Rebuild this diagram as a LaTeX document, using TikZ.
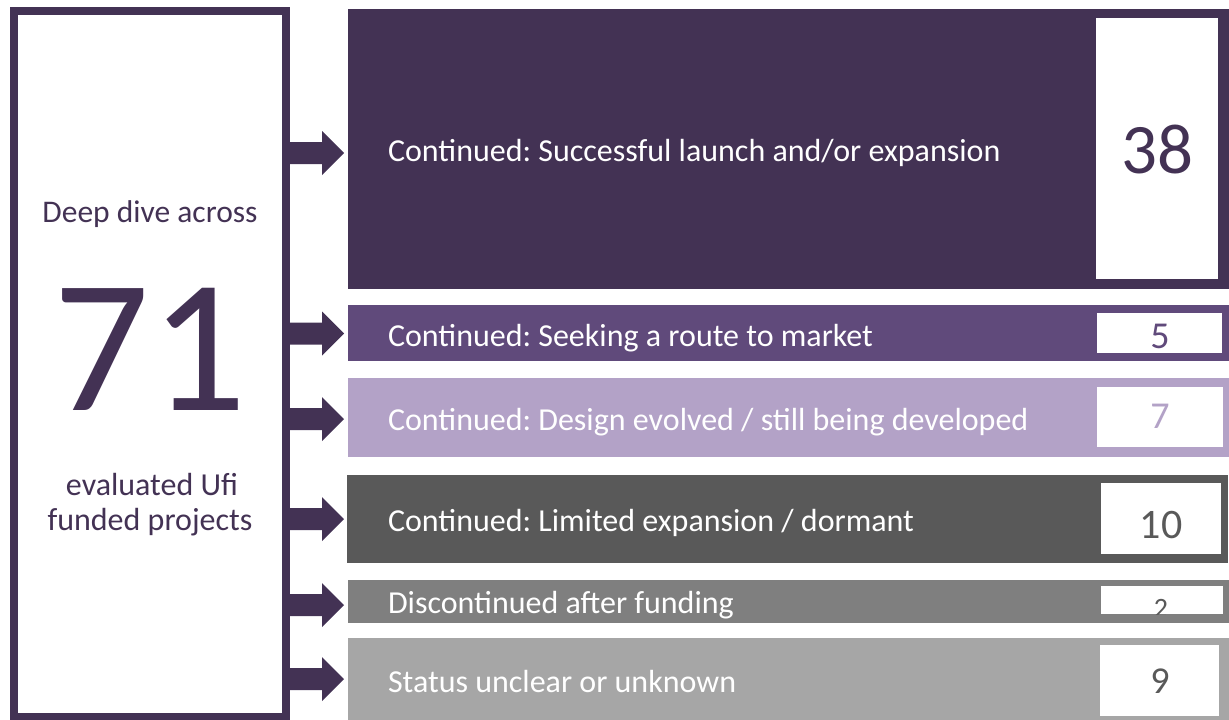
\documentclass[tikz,border=0pt]{standalone}
\usepackage{fontspec}
\setmainfont{Carlito}
\usetikzlibrary{positioning}

\definecolor{ufidark}{HTML}{433254}
\definecolor{ufimid}{HTML}{604A7B}
\definecolor{ufilight}{HTML}{B3A2C7}
\definecolor{greydark}{HTML}{595959}
\definecolor{greymid}{HTML}{7F7F7F}
\definecolor{greylight}{HTML}{A6A6A6}

\newcommand{\fsz}[1]{\fontsize{#1}{#1}\selectfont}
\frenchspacing

\begin{document}
\begin{tikzpicture}[x=1pt,y=-1pt,
    every node/.style={inner sep=0pt,outer sep=0pt},
    outcome/.style={anchor=north west,minimum width=881pt,draw=none},
    countbox/.style={anchor=north west,fill=white,draw=none},
    outtext/.style={anchor=base west,text=white,font=\fsz{32}},
    count/.style={anchor=base,font=\fsz{38}},
    deeptext/.style={anchor=base,text=ufidark,font=\fsz{32}}]
        \useasboundingbox (0,0) rectangle (1229,720);

        % left box
        \node [anchor=north west,draw=ufidark,line width=8pt,minimum width=271.5pt,minimum height=706pt] at (14,11) (deep) {};
        \node [deeptext,font=\fsz{31.5}] at (150,222) (across) {Deep dive across};
        \node [deeptext,font=\fsz{190}] at (150,410) (total) {71};
        \node [deeptext] at (152,495) (evaluated) {evaluated Ufi};
        \node [deeptext] at (150,530) (funded) {funded projects};

        % outcome bars
        \node [outcome,fill=ufidark,minimum height=280pt] at (348,9) (o1) {};
        \node [outcome,fill=ufimid,minimum height=56pt] at (348,305) (o2) {};
        \node [outcome,fill=ufilight,minimum height=79pt] at (348,378) (o3) {};
        \node [outcome,fill=greydark,minimum height=88pt] at (347,475) (o4) {};
        \node [outcome,fill=greymid,minimum height=43pt] at (348,580) (o5) {};
        \node [outcome,fill=greylight,minimum height=82pt] at (348,638) (o6) {};

        \node [outtext] at (388,161.5) (t1) {Continued: Successful launch and/or expansion};
        \node [outtext] at (388,346) (t2) {Continued: Seeking a route to market};
        \node [outtext] at (388,430) (t3) {Continued: Design evolved / still being developed};
        \node [outtext] at (388,531) (t4) {Continued: Limited expansion / dormant};
        \node [outtext] at (388,613) (t5) {Discontinued after funding};
        \node [outtext] at (388,692) (t6) {Status unclear or unknown};

        % count boxes
        \node [countbox,minimum width=122pt,minimum height=261pt] at (1096,18) (c1) {};
        \node [countbox,minimum width=125pt,minimum height=40pt] at (1097,313) (c2) {};
        \node [countbox,minimum width=126pt,minimum height=60pt] at (1097,387) (c3) {};
        \node [countbox,minimum width=120pt,minimum height=71pt] at (1101,483) (c4) {};
        \node [countbox,minimum width=122pt,minimum height=28pt] at (1101,586) (c5) {};
        \node [countbox,minimum width=119pt,minimum height=71pt] at (1100,645) (c6) {};

        \node [count,text=ufidark,font=\fsz{71}] at (1157,173) (n1) {38};
        \node [count,text=ufimid] at (1160,348) (n2) {5};
        \node [count,text=ufilight] at (1160,428) (n3) {7};
        \node [count,text=greydark,font=\fsz{42}] at (1161,538) (n4) {10};
        \begin{scope}
            \clip (c5.north west) rectangle (c5.south east);
            \node [count,text=greydark,font=\fsz{28}] at (1161,617) (n5) {2};
        \end{scope}
        \node [count,text=greydark] at (1160,693) (n6) {9};

        % block arrows
        \foreach \o/\dy in {o1/4,o2/0.5,o3/1.5,o4/0,o5/3.5,o6/0}
            \fill [ufidark] (deep.east |- \o.west) ++(0,\dy-11) -- ++(36.5,0) -- ++(0,-11) -- ++(22,22) -- ++(-22,22) -- ++(0,-11) -- ++(-36.5,0) -- cycle;

\end{tikzpicture}
\end{document}
